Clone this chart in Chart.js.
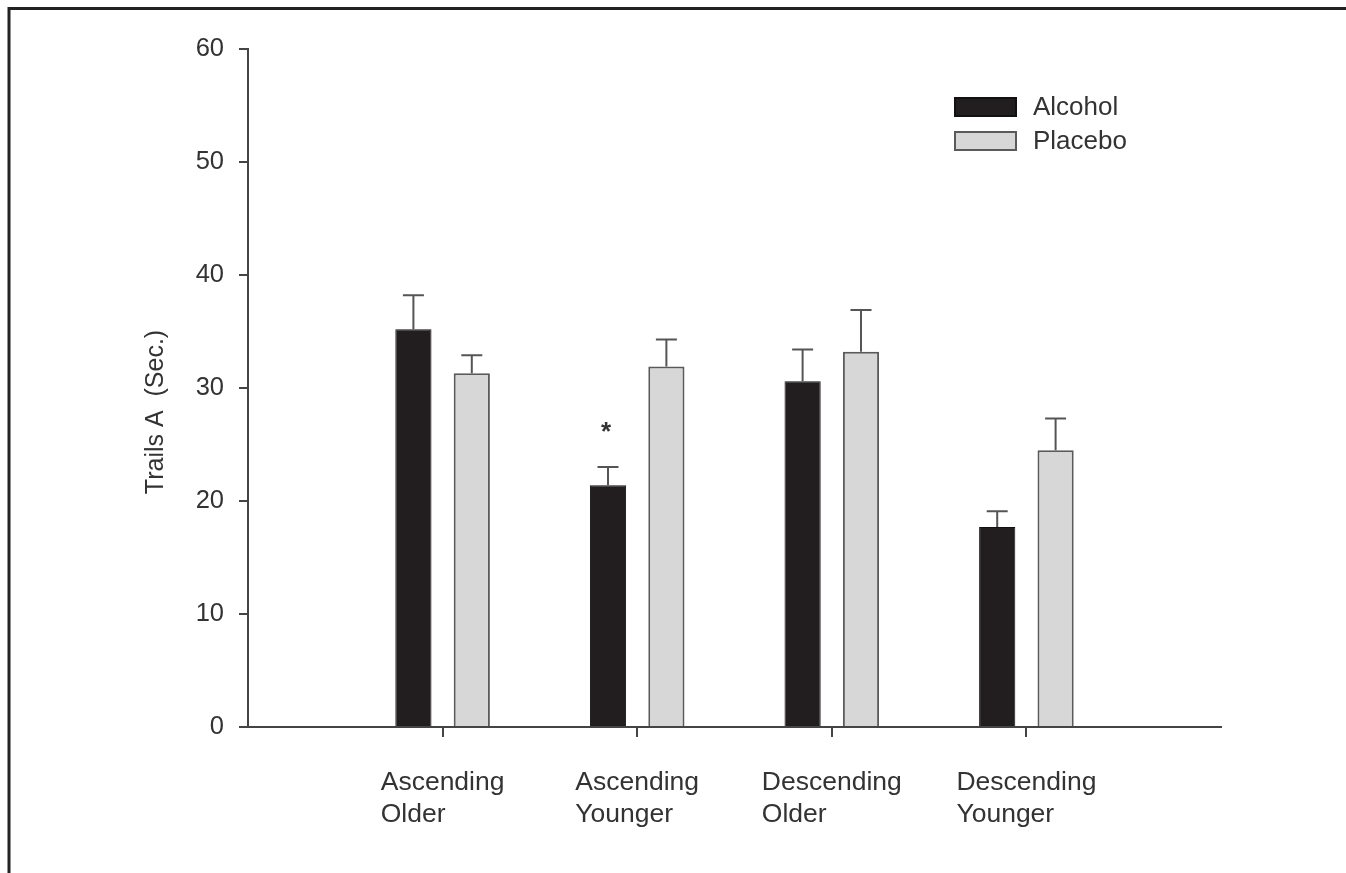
<!DOCTYPE html>
<html>
<head>
<meta charset="utf-8">
<title>Trails A</title>
<script src="https://cdn.jsdelivr.net/npm/chart.js@4/dist/chart.umd.min.js"></script>
<style>
  html, body { margin: 0; padding: 0; background: #fff; }
  canvas { display: block; }
</style>
</head>
<body>
<canvas id="chart" width="1346" height="873"></canvas>
<script>
// data
const categories = [['Ascending', 'Older'], ['Ascending', 'Younger'], ['Descending', 'Older'], ['Descending', 'Younger']];
const alcohol = [35.2, 21.4, 30.6, 17.7];
const alcoholErr = [3.0, 1.6, 2.8, 1.4];
const placebo = [31.3, 31.9, 33.2, 24.5];
const placeboErr = [1.6, 2.4, 3.7, 2.8];
const marks = ['', '*', '', ''];
const yTicks = [0, 10, 20, 30, 40, 50, 60];
const yTitle = 'Trails A  (Sec.)';

const FONT = '"Liberation Sans", Arial, Helvetica, sans-serif';
const TEXT = '#333';
const AXIS = '#444';

// empty slots at both ends so the four groups sit at 1/5 .. 4/5 of the axis
const pad = arr => [null, ...arr, null];
const labels = ['', ...categories, ''];

const errorBars = {
  id: 'errorBars',
  afterDatasetsDraw(chart) {
    const ctx = chart.ctx;
    const y = chart.scales.y;
    ctx.save();
    ctx.strokeStyle = '#555';
    ctx.lineWidth = 2;
    chart.data.datasets.forEach((ds, di) => {
      const meta = chart.getDatasetMeta(di);
      meta.data.forEach((bar, i) => {
        const v = ds.data[i];
        if (v == null) return;
        const top = y.getPixelForValue(v + ds.err[i - 1]);
        ctx.beginPath();
        ctx.moveTo(bar.x, bar.y);
        ctx.lineTo(bar.x, top);
        ctx.moveTo(bar.x - 10.5, top);
        ctx.lineTo(bar.x + 10.5, top);
        ctx.stroke();
        if (di === 0 && marks[i - 1]) {
          ctx.fillStyle = TEXT;
          ctx.font = 'bold 26px ' + FONT;
          ctx.textAlign = 'center';
          ctx.textBaseline = 'alphabetic';
          ctx.fillText(marks[i - 1], bar.x - 2, top - 27);
        }
      });
    });
    ctx.restore();
  }
};

const decorations = {
  id: 'decorations',
  beforeDraw(chart) {
    const ctx = chart.ctx;
    ctx.save();
    ctx.fillStyle = '#fff';
    ctx.fillRect(0, 0, chart.width, chart.height);
    // frame (top and left edges)
    ctx.strokeStyle = '#222';
    ctx.lineWidth = 3;
    ctx.beginPath();
    ctx.moveTo(9, chart.height);
    ctx.lineTo(9, 8.5);
    ctx.lineTo(chart.width, 8.5);
    ctx.stroke();
    ctx.restore();
  },
  afterDraw(chart) {
    const ctx = chart.ctx;
    const x = chart.scales.x;
    const area = chart.chartArea;
    ctx.save();
    ctx.fillStyle = TEXT;
    ctx.font = '26.5px ' + FONT;
    ctx.textBaseline = 'alphabetic';

    // category labels, lines left aligned inside each group
    categories.forEach((lines, i) => {
      const cx = x.getPixelForValue(i + 1);
      const w = Math.max(...lines.map(l => ctx.measureText(l).width));
      ctx.textAlign = 'left';
      lines.forEach((l, k) => ctx.fillText(l, cx - w / 2, area.bottom + 63 + k * 32));
    });

    // y axis title
    ctx.font = '25px ' + FONT;
    ctx.save();
    ctx.translate(163, 412);
    ctx.rotate(-Math.PI / 2);
    ctx.textAlign = 'center';
    ctx.fillText(yTitle, 0, 0);
    ctx.restore();

    // legend
    ctx.font = '26px ' + FONT;
    chart.data.datasets.forEach((ds, i) => {
      const top = 97 + i * 34;
      ctx.fillStyle = ds.backgroundColor;
      ctx.fillRect(954, top, 63, 20);
      ctx.strokeStyle = ds.borderColor;
      ctx.lineWidth = 2;
      ctx.strokeRect(955, top + 1, 61, 18);
      ctx.fillStyle = TEXT;
      ctx.textAlign = 'left';
      ctx.textBaseline = 'middle';
      ctx.fillText(ds.label, 1033, top + 11);
    });
    ctx.restore();
  }
};

new Chart(document.getElementById('chart'), {
  type: 'bar',
  data: {
    labels: labels,
    datasets: [
      {
        label: 'Alcohol',
        data: pad(alcohol),
        err: alcoholErr,
        backgroundColor: '#221e1f',
        borderColor: '#111',
        borderWidth: 1,
        categoryPercentage: 0.6,
        barPercentage: 0.62
      },
      {
        label: 'Placebo',
        data: pad(placebo),
        err: placeboErr,
        backgroundColor: '#d7d7d7',
        borderColor: '#5a5a5a',
        borderWidth: 2,
        categoryPercentage: 0.6,
        barPercentage: 0.62
      }
    ]
  },
  options: {
    responsive: false,
    animation: false,
    layout: { padding: { top: 49, right: 125, bottom: 0, left: 0 } },
    plugins: {
      legend: { display: false },
      tooltip: { enabled: false }
    },
    scales: {
      x: {
        offset: false,
        grid: {
          offset: false,
          drawOnChartArea: false,
          tickLength: 10,
          lineWidth: 2,
          tickColor: c => (c.index === 0 || c.index === labels.length - 1) ? 'transparent' : AXIS
        },
        border: { color: AXIS, width: 2 },
        ticks: { color: 'transparent', autoSkip: false, maxRotation: 0 },
        afterFit: s => { s.height = 146; }
      },
      y: {
        min: 0,
        max: 60,
        afterBuildTicks: s => { s.ticks = yTicks.map(v => ({ value: v })); },
        grid: { drawOnChartArea: false, tickLength: 9, lineWidth: 2, tickColor: AXIS },
        border: { color: AXIS, width: 2 },
        ticks: { color: TEXT, padding: 15, font: { family: FONT, size: 25.5 } },
        afterFit: s => { s.width = 248; }
      }
    }
  },
  plugins: [decorations, errorBars]
});
</script>
</body>
</html>
